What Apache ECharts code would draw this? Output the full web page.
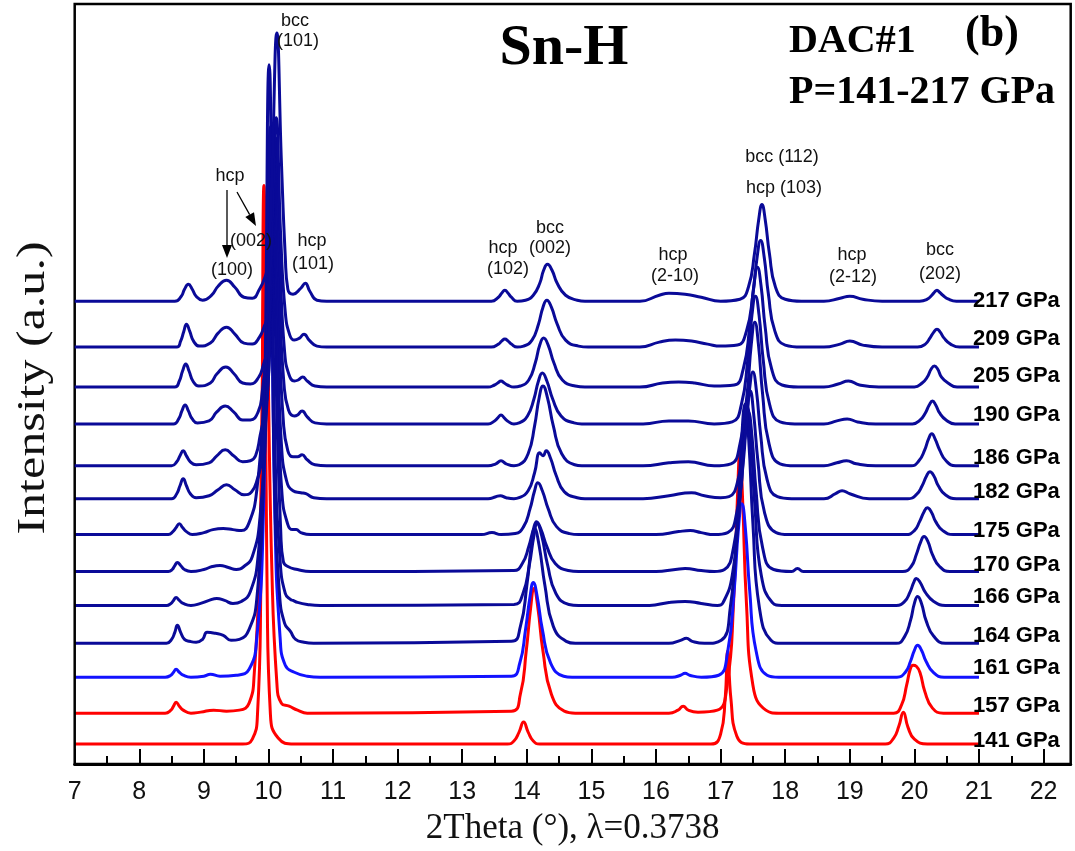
<!DOCTYPE html>
<html>
<head>
<meta charset="utf-8">
<script src="https://cdn.jsdelivr.net/npm/echarts@6/dist/echarts.min.js"></script>
<style>
  html, body { margin: 0; padding: 0; background: #fff; }
  #chart { width: 1075px; height: 851px; }
</style>
</head>
<body>
<div id="chart"></div>
<script>
// X-ray diffraction patterns of Sn-H, DAC#1, stacked by pressure.
// Each pattern: [2theta (deg), intensity above its own baseline (a.u.)]
const p141 = [[7,0],[9.6,0],[9.75,5],[9.83,30],[9.88,150],[9.93,560],[9.98,150],[10.03,30],[10.15,6],[10.4,0],
  [13.7,0],[13.8,3],[13.88,12],[13.95,22],[14.02,12],[14.1,3],[14.2,0],
  [16.85,0],[17.0,10],[17.07,45],[17.11,93],[17.16,45],[17.25,8],[17.45,0],
  [19.55,0],[19.68,6],[19.76,18],[19.83,32],[19.9,17],[20.0,5],[20.2,0],[21,0]];
const p157 = [[7,0],[8.4,0],[8.49,3],[8.53,7],[8.57,11],[8.62,7],[8.68,3],[8.8,0],[8.95,1],[9.15,3],[9.35,2],[9.55,3],[9.7,10],[9.78,40],[9.86,150],[9.95,450],[10.05,150],[10.13,30],[10.2,10],[10.32,7],[10.45,3],[10.6,0],
  [13.76,2],[13.9,19],[13.99,62],[14.06,106],[14.11,125],[14.17,106],[14.25,62],[14.38,19],[14.58,2],[14.75,0],
  [16.2,0],[16.34,3],[16.42,7],[16.5,3],[16.65,1],
  [16.95,3],[17.1,28],[17.2,110],[17.26,215],[17.3,262],[17.34,215],[17.4,110],[17.5,28],[17.7,3],[17.9,0],
  [19.68,0],[19.8,8],[19.88,28],[19.94,45],[19.98,48],[20.03,47],[20.09,40],[20.16,22],[20.28,5],[20.45,0],[21,0]];
const p161 = [[7,0],[8.4,0],[8.49,2],[8.53,5],[8.57,8],[8.62,5],[8.68,2],[8.8,0],[9.0,1],[9.1,3],[9.25,1],[9.5,2],[9.7,8],[9.82,40],[9.92,160],[10.02,500],[10.1,160],[10.18,40],[10.26,12],[10.4,5],[10.6,1],[10.8,0],
  [13.76,1],[13.89,14],[13.98,48],[14.05,81],[14.1,95],[14.16,81],[14.24,48],[14.37,14],[14.57,1],[14.7,0],
  [16.25,0],[16.38,2],[16.45,4],[16.52,2],[16.7,0],
  [16.97,2],[17.11,26],[17.21,87],[17.275,148],[17.33,174],[17.385,148],[17.45,87],[17.55,26],[17.72,2],[17.9,0],
  [19.73,0],[19.86,5],[19.94,16],[20.0,27],[20.05,32],[20.11,27],[20.18,16],[20.29,5],[20.46,0],[21,0]];
const p164 = [[7,0],[8.42,0],[8.5,4],[8.55,11],[8.59,18],[8.64,11],[8.7,4],[8.78,2],[8.88,1],[8.98,4],[9.05,11],[9.18,10],[9.3,8],[9.42,3],[9.55,4],[9.7,14],[9.82,45],[9.92,170],[10.01,580],[10.09,170],[10.17,50],[10.25,20],[10.34,12],[10.42,4],[10.55,1],[10.7,0],
  [13.76,2],[13.9,17],[14.0,58],[14.07,98],[14.12,115],[14.19,98],[14.28,58],[14.41,17],[14.61,2],[14.75,0],
  [16.2,0],[16.38,3],[16.47,5],[16.56,2],[16.75,0],
  [17.01,3],[17.15,36],[17.26,120],[17.325,204],[17.38,240],[17.435,204],[17.5,120],[17.6,36],[17.78,3],[17.95,0],
  [19.72,0],[19.85,7],[19.94,23],[20.0,40],[20.05,47],[20.11,40],[20.18,23],[20.3,7],[20.48,0],[21,0]];
const p166 = [[7,0],[8.42,0],[8.49,2],[8.53,5],[8.57,8],[8.62,5],[8.68,2],[8.8,0],[8.95,2],[9.08,5],[9.2,7],[9.32,5],[9.45,2],[9.58,4],[9.72,14],[9.84,50],[9.94,160],[10.03,480],[10.1,160],[10.18,45],[10.26,12],[10.34,6],[10.38,5],[10.45,3],[10.6,1],[10.8,0],
  [13.8,1],[13.94,12],[14.04,41],[14.11,70],[14.16,82],[14.23,70],[14.32,41],[14.45,12],[14.65,1],[14.8,0],
  [15.9,0],[16.2,3],[16.45,4],[16.7,2],[16.95,0],
  [17.04,3],[17.18,30],[17.29,100],[17.355,170],[17.41,200],[17.465,170],[17.53,100],[17.63,30],[17.8,3],[17.95,0],
  [19.72,0],[19.85,4],[19.93,13],[19.99,23],[20.03,27],[20.09,23],[20.17,13],[20.3,4],[20.48,0],[21,0]];
const p170 = [[7,0],[8.45,0],[8.51,2],[8.55,6],[8.59,9],[8.64,6],[8.7,2],[8.8,0],[9.0,2],[9.13,5],[9.25,6],[9.38,4],[9.5,2],[9.62,5],[9.75,15],[9.87,55],[9.97,170],[10.06,400],[10.13,160],[10.19,40],[10.23,10],[10.3,5],[10.45,2],[10.65,0],
  [13.8,1],[13.93,8],[14.03,25],[14.1,42],[14.15,50],[14.22,42],[14.31,25],[14.44,8],[14.64,1],[14.8,0],
  [16.0,0],[16.3,2],[16.45,3],[16.7,1],[16.9,0],
  [17.06,2],[17.2,24],[17.31,80],[17.375,136],[17.43,160],[17.485,136],[17.55,80],[17.65,24],[17.82,2],[18.1,0],[18.19,3],[18.28,0],
  [19.82,0],[19.95,5],[20.03,17],[20.1,30],[20.15,35],[20.21,30],[20.28,17],[20.39,5],[20.55,0],[21,0]];
const p175 = [[7,0],[8.45,0],[8.52,3],[8.57,7],[8.62,11],[8.67,7],[8.73,3],[8.82,0],[9.0,2],[9.14,5],[9.3,6],[9.45,5],[9.58,4],[9.7,12],[9.82,45],[9.93,140],[10.0,250],[10.07,370],[10.14,150],[10.21,40],[10.3,10],[10.37,5],[10.43,5],[10.5,2],[10.65,0],
  [13.3,0],[13.46,2],[13.6,0],
  [13.82,1],[13.95,8],[14.05,26],[14.12,44],[14.17,52],[14.24,44],[14.33,26],[14.46,8],[14.66,1],[14.8,0],
  [16.0,0],[16.35,3],[16.53,4],[16.7,2],[16.9,0],
  [17.11,2],[17.25,22],[17.35,72],[17.41,122],[17.46,144],[17.51,122],[17.58,72],[17.68,22],[17.86,2],[18.05,0],
  [19.87,0],[20.0,4],[20.08,13],[20.15,23],[20.2,27],[20.26,23],[20.33,13],[20.44,4],[20.6,0],[21,0]];
const p182 = [[7,0],[8.5,0],[8.58,5],[8.63,13],[8.68,20],[8.73,13],[8.79,5],[8.88,1],[9.08,3],[9.22,9],[9.35,14],[9.48,9],[9.62,4],[9.74,7],[9.83,20],[9.9,40],[9.98,100],[10.03,180],[10.08,320],[10.14,160],[10.2,55],[10.28,18],[10.38,8],[10.5,6],[10.58,5],[10.7,1],[10.9,0],
  [13.4,0],[13.52,2],[13.59,3],[13.68,1],[13.8,0],
  [13.88,1],[14.02,8],[14.12,26],[14.2,46],[14.25,43],[14.3,48],[14.37,40],[14.45,24],[14.58,7],[14.78,1],[14.9,0],
  [15.8,0],[16.2,3],[16.55,6],[16.75,3],[17.0,1],
  [17.13,2],[17.27,19],[17.38,64],[17.445,108],[17.5,127],[17.555,108],[17.62,64],[17.72,19],[17.88,2],[18.1,0],
  [18.6,0],[18.78,5],[18.88,8],[19.0,5],[19.3,0],
  [19.9,0],[20.03,4],[20.12,13],[20.19,23],[20.24,27],[20.3,23],[20.37,13],[20.48,4],[20.65,0],[21,0]];
const p186 = [[7,0],[8.5,0],[8.58,4],[8.63,10],[8.68,15],[8.73,10],[8.79,4],[8.88,1],[9.08,3],[9.2,10],[9.33,16],[9.46,10],[9.6,4],[9.72,5],[9.8,10],[9.87,30],[9.98,70],[10.03,150],[10.09,300],[10.16,140],[10.23,45],[10.3,15],[10.38,9],[10.45,9],[10.52,11],[10.6,6],[10.72,1],[10.9,0],
  [13.4,0],[13.52,2],[13.6,5],[13.68,2],[13.8,0],
  [13.88,1],[14.02,12],[14.12,40],[14.19,68],[14.25,80],[14.32,68],[14.41,40],[14.54,12],[14.74,1],[14.85,0],
  [15.8,0],[16.2,3],[16.5,4],[16.9,0],
  [17.16,2],[17.3,22],[17.41,72],[17.475,122],[17.53,144],[17.585,122],[17.65,72],[17.75,22],[17.92,2],[18.15,0],
  [18.6,0],[18.8,3],[18.95,5],[19.1,2],[19.4,0],
  [19.95,0],[20.07,5],[20.16,16],[20.22,27],[20.27,32],[20.32,27],[20.39,16],[20.49,5],[20.64,0],[21,0]];
const p190 = [[7,0],[8.53,0],[8.61,5],[8.66,13],[8.71,19],[8.76,13],[8.82,5],[8.9,1],[9.08,3],[9.2,12],[9.33,18],[9.46,12],[9.6,4],[9.72,4],[9.84,12],[9.9,30],[10.03,120],[10.10,270],[10.17,125],[10.24,40],[10.31,14],[10.4,8],[10.45,9],[10.52,13],[10.6,7],[10.72,1],[10.9,0],
  [13.4,0],[13.5,3],[13.55,6],[13.6,9],[13.65,6],[13.7,3],[13.8,0],
  [13.88,1],[14.01,8],[14.11,25],[14.18,43],[14.24,51],[14.31,43],[14.4,25],[14.53,8],[14.73,1],[14.85,0],
  [15.8,0],[16.2,3],[16.5,3],[16.9,0],
  [17.18,2],[17.32,19],[17.42,64],[17.485,109],[17.54,128],[17.595,109],[17.66,64],[17.76,19],[17.92,2],[18.15,0],
  [18.6,0],[18.8,3],[18.96,5],[19.12,2],[19.4,0],
  [19.97,0],[20.09,4],[20.17,11],[20.23,19],[20.28,23],[20.33,19],[20.39,11],[20.49,4],[20.63,0],[21,0]];
const p205 = [[7,0],[8.55,0],[8.62,6],[8.67,16],[8.72,23],[8.77,16],[8.83,6],[8.92,1],[9.1,4],[9.2,13],[9.34,20],[9.47,13],[9.6,4],[9.72,3],[9.85,10],[9.92,22],[9.99,40],[10.04,120],[10.11,250],[10.18,120],[10.25,35],[10.32,12],[10.4,6],[10.46,7],[10.53,10],[10.6,6],[10.72,1],[10.9,0],
  [13.4,0],[13.5,2],[13.55,4],[13.6,6],[13.65,4],[13.7,2],[13.8,0],
  [13.9,1],[14.03,7],[14.13,24],[14.2,42],[14.26,49],[14.33,42],[14.42,24],[14.55,7],[14.75,1],[14.9,0],
  [15.75,0],[16.1,4],[16.35,5],[16.6,4],[16.9,1],
  [17.21,2],[17.35,18],[17.45,60],[17.515,102],[17.57,120],[17.625,102],[17.69,60],[17.79,18],[17.95,2],[18.2,0],
  [18.6,0],[18.82,3],[18.98,6],[19.15,2],[19.45,0],
  [20.0,0],[20.12,4],[20.2,10],[20.26,18],[20.31,21],[20.36,18],[20.42,10],[20.52,4],[20.66,0],[21,0]];
const p209 = [[7,0],[8.58,0],[8.64,6],[8.69,16],[8.73,23],[8.78,16],[8.84,6],[8.93,1],[9.1,4],[9.22,14],[9.35,20],[9.48,13],[9.62,4],[9.75,3],[9.86,10],[9.93,20],[9.98,30],[10.05,110],[10.12,230],[10.19,110],[10.26,35],[10.33,12],[10.4,7],[10.48,9],[10.55,13],[10.63,7],[10.75,1],[10.9,0],
  [13.45,0],[13.56,3],[13.61,6],[13.66,8],[13.71,6],[13.76,3],[13.85,0],
  [13.95,1],[14.08,7],[14.18,23],[14.25,40],[14.31,47],[14.38,40],[14.47,23],[14.6,7],[14.8,1],[14.95,0],
  [15.75,0],[16.05,5],[16.3,7],[16.55,6],[16.8,3],[17.0,1],
  [17.26,2],[17.4,16],[17.5,53],[17.565,90],[17.62,107],[17.675,90],[17.74,53],[17.84,16],[18.0,2],[18.25,0],
  [18.6,0],[18.85,3],[19.0,6],[19.2,2],[19.5,0],
  [20.05,0],[20.17,3],[20.24,9],[20.3,15],[20.35,18],[20.4,15],[20.46,9],[20.56,3],[20.7,0],[21,0]];
const p217 = [[7,0],[8.55,0],[8.65,5],[8.7,12],[8.76,17],[8.82,12],[8.88,5],[8.98,1],[9.12,6],[9.22,15],[9.35,21],[9.48,14],[9.62,4],[9.75,3],[9.86,12],[9.94,23],[10.0,40],[10.06,140],[10.13,269],[10.2,140],[10.26,45],[10.3,12],[10.38,7],[10.5,13],[10.57,18],[10.64,10],[10.75,1],[10.9,0],
  [13.45,0],[13.56,4],[13.61,8],[13.66,11],[13.71,8],[13.76,4],[13.85,0],
  [13.98,1],[14.1,6],[14.2,18],[14.26,31],[14.32,37],[14.39,31],[14.47,18],[14.6,6],[14.78,1],[14.9,0],
  [15.75,0],[16.05,6],[16.2,8],[16.45,7],[16.7,4],[17.0,0],
  [17.3,2],[17.43,14],[17.525,48],[17.59,82],[17.64,97],[17.69,82],[17.755,48],[17.85,14],[18.0,2],[18.25,0],
  [18.6,0],[18.85,3],[19.0,5],[19.2,2],[19.5,0],
  [20.08,0],[20.2,2],[20.27,6],[20.31,9],[20.35,11],[20.39,9],[20.44,6],[20.53,2],[20.65,0],[21,0]];

// Patterns in drawing order (lowest pressure first), their labels and stacking offsets
const patterns = [p141, p157, p161, p164, p166, p170, p175, p182, p186, p190, p205, p209, p217];
const pressures = ['141 GPa', '157 GPa', '161 GPa', '164 GPa', '166 GPa', '170 GPa', '175 GPa',
                   '182 GPa', '186 GPa', '190 GPa', '205 GPa', '209 GPa', '217 GPa'];
const baselines = [20, 51, 87, 121, 159, 193, 230, 266, 299, 341, 378, 418, 464];
const xTicks = [7, 8, 9, 10, 11, 12, 13, 14, 15, 16, 17, 18, 19, 20, 21, 22];
const xMinorTicks = [7.5, 8.5, 9.5, 10.5, 11.5, 12.5, 13.5, 14.5, 15.5, 16.5, 17.5, 18.5, 19.5, 20.5, 21.5];

const RED = '#ff0000', BLUE = '#1212ff', NAVY = '#0a0a98';
const lineColors = [RED, RED, BLUE, NAVY, NAVY, NAVY, NAVY, NAVY, NAVY, NAVY, NAVY, NAVY, NAVY];
const labelShift = [-3, -7, -9, -7, -8, -7, -4, -7, -8, -9, -11, -8, 0];

const SANS = '"Liberation Sans", Arial, sans-serif';
const SERIF = '"Liberation Serif", "Times New Roman", serif';

const chart = echarts.init(document.getElementById('chart'), null, { renderer: 'canvas' });

const series = patterns.map((pts, i) => ({
  name: pressures[i],
  type: 'line',
  smooth: true,
  showSymbol: false,
  symbol: 'none',
  data: pts.map(([x, y]) => [x, y + baselines[i]]),
  lineStyle: { color: lineColors[i], width: 3 },
  z: 2 + i,
  endLabel: {
    show: true,
    formatter: '{a}',
    distance: 0,
    offset: [-6, labelShift[i]],
    color: '#000',
    fontFamily: SANS,
    fontWeight: 'bold',
    fontSize: 22
  }
}));

function annot(text, x, y) {
  return {
    type: 'text', x: x, y: y, z: 50,
    style: { text: text, fill: '#111', font: '18px ' + SANS, align: 'center', verticalAlign: 'middle' }
  };
}
function arrow(x1, y1, x2, y2) {
  const a = Math.atan2(y2 - y1, x2 - x1), L = 13, W = 5;
  const bx = x2 - L * Math.cos(a), by = y2 - L * Math.sin(a);
  const nx = -Math.sin(a) * W, ny = Math.cos(a) * W;
  return [
    { type: 'line', z: 50, shape: { x1: x1, y1: y1, x2: bx, y2: by }, style: { stroke: '#000', lineWidth: 1.3 } },
    { type: 'polygon', z: 50, shape: { points: [[x2, y2], [bx + nx, by + ny], [bx - nx, by - ny]] }, style: { fill: '#000' } }
  ];
}

const option = {
  animation: false,
  backgroundColor: '#fff',
  grid: { left: 74.7, right: 4.3, top: 4, bottom: 85, show: true, borderColor: '#000', borderWidth: 2.5, backgroundColor: 'transparent', z: 10 },
  xAxis: [{
    type: 'value', min: 7, max: 22.42, interval: 1,
    name: '2Theta (\u00b0), \u03bb=0.3738',
    nameLocation: 'middle', nameGap: 47,
    nameTextStyle: { fontFamily: SERIF, fontSize: 35, color: '#111' },
    axisLine: { show: true, lineStyle: { color: '#000', width: 3 } },
    axisTick: { show: true, inside: true, length: 15, lineStyle: { color: '#000', width: 2 }, customValues: xTicks },
    axisLabel: { show: true, margin: 16, fontFamily: SANS, fontSize: 25, color: '#111', customValues: xTicks },
    splitLine: { show: false }
  }, {
    type: 'value', min: 7, max: 22.42, position: 'bottom',
    axisLine: { show: false },
    axisTick: { show: true, inside: true, length: 8, lineStyle: { color: '#000', width: 2 }, customValues: xMinorTicks },
    axisLabel: { show: false },
    splitLine: { show: false }
  }],
  yAxis: {
    type: 'value', min: 0, max: 762, show: false
  },
  series: series,
  graphic: [
    { type: 'text', x: 33, y: 388, rotation: Math.PI / 2, scaleX: 1.22, z: 50,
      style: { text: 'Intensity (a.u.)', fill: '#111', font: '41px ' + SERIF, align: 'center', verticalAlign: 'middle' } },
    { type: 'text', x: 564, y: 49, z: 50, style: { text: 'Sn-H', fill: '#000', font: 'bold 58px ' + SERIF, align: 'center', verticalAlign: 'middle' } },
    { type: 'text', x: 789, y: 42, z: 50, style: { text: 'DAC#1', fill: '#000', font: 'bold 40px ' + SERIF, align: 'left', verticalAlign: 'middle' } },
    { type: 'text', x: 992, y: 35, z: 50, style: { text: '(b)', fill: '#000', font: 'bold 44px ' + SERIF, align: 'center', verticalAlign: 'middle' } },
    { type: 'text', x: 789, y: 93, z: 50, style: { text: 'P=141-217 GPa', fill: '#000', font: 'bold 40px ' + SERIF, align: 'left', verticalAlign: 'middle' } },
    annot('bcc', 295, 21), annot('(101)', 298, 41),
    annot('hcp', 230, 176),
    annot('(002)', 251, 241),
    annot('(100)', 232, 270),
    annot('hcp', 312, 241), annot('(101)', 313, 264),
    annot('hcp', 503, 248), annot('(102)', 508, 269),
    annot('bcc', 550, 228), annot('(002)', 550, 248),
    annot('hcp', 673, 255), annot('(2-10)', 675, 276),
    annot('bcc (112)', 782, 157),
    annot('hcp (103)', 784, 188),
    annot('hcp', 852, 255), annot('(2-12)', 853, 277),
    annot('bcc', 940, 250), annot('(202)', 940, 274)
  ].concat(arrow(227, 190, 227, 258), arrow(237, 192, 256, 226))
};

chart.setOption(option);
</script>
</body>
</html>
